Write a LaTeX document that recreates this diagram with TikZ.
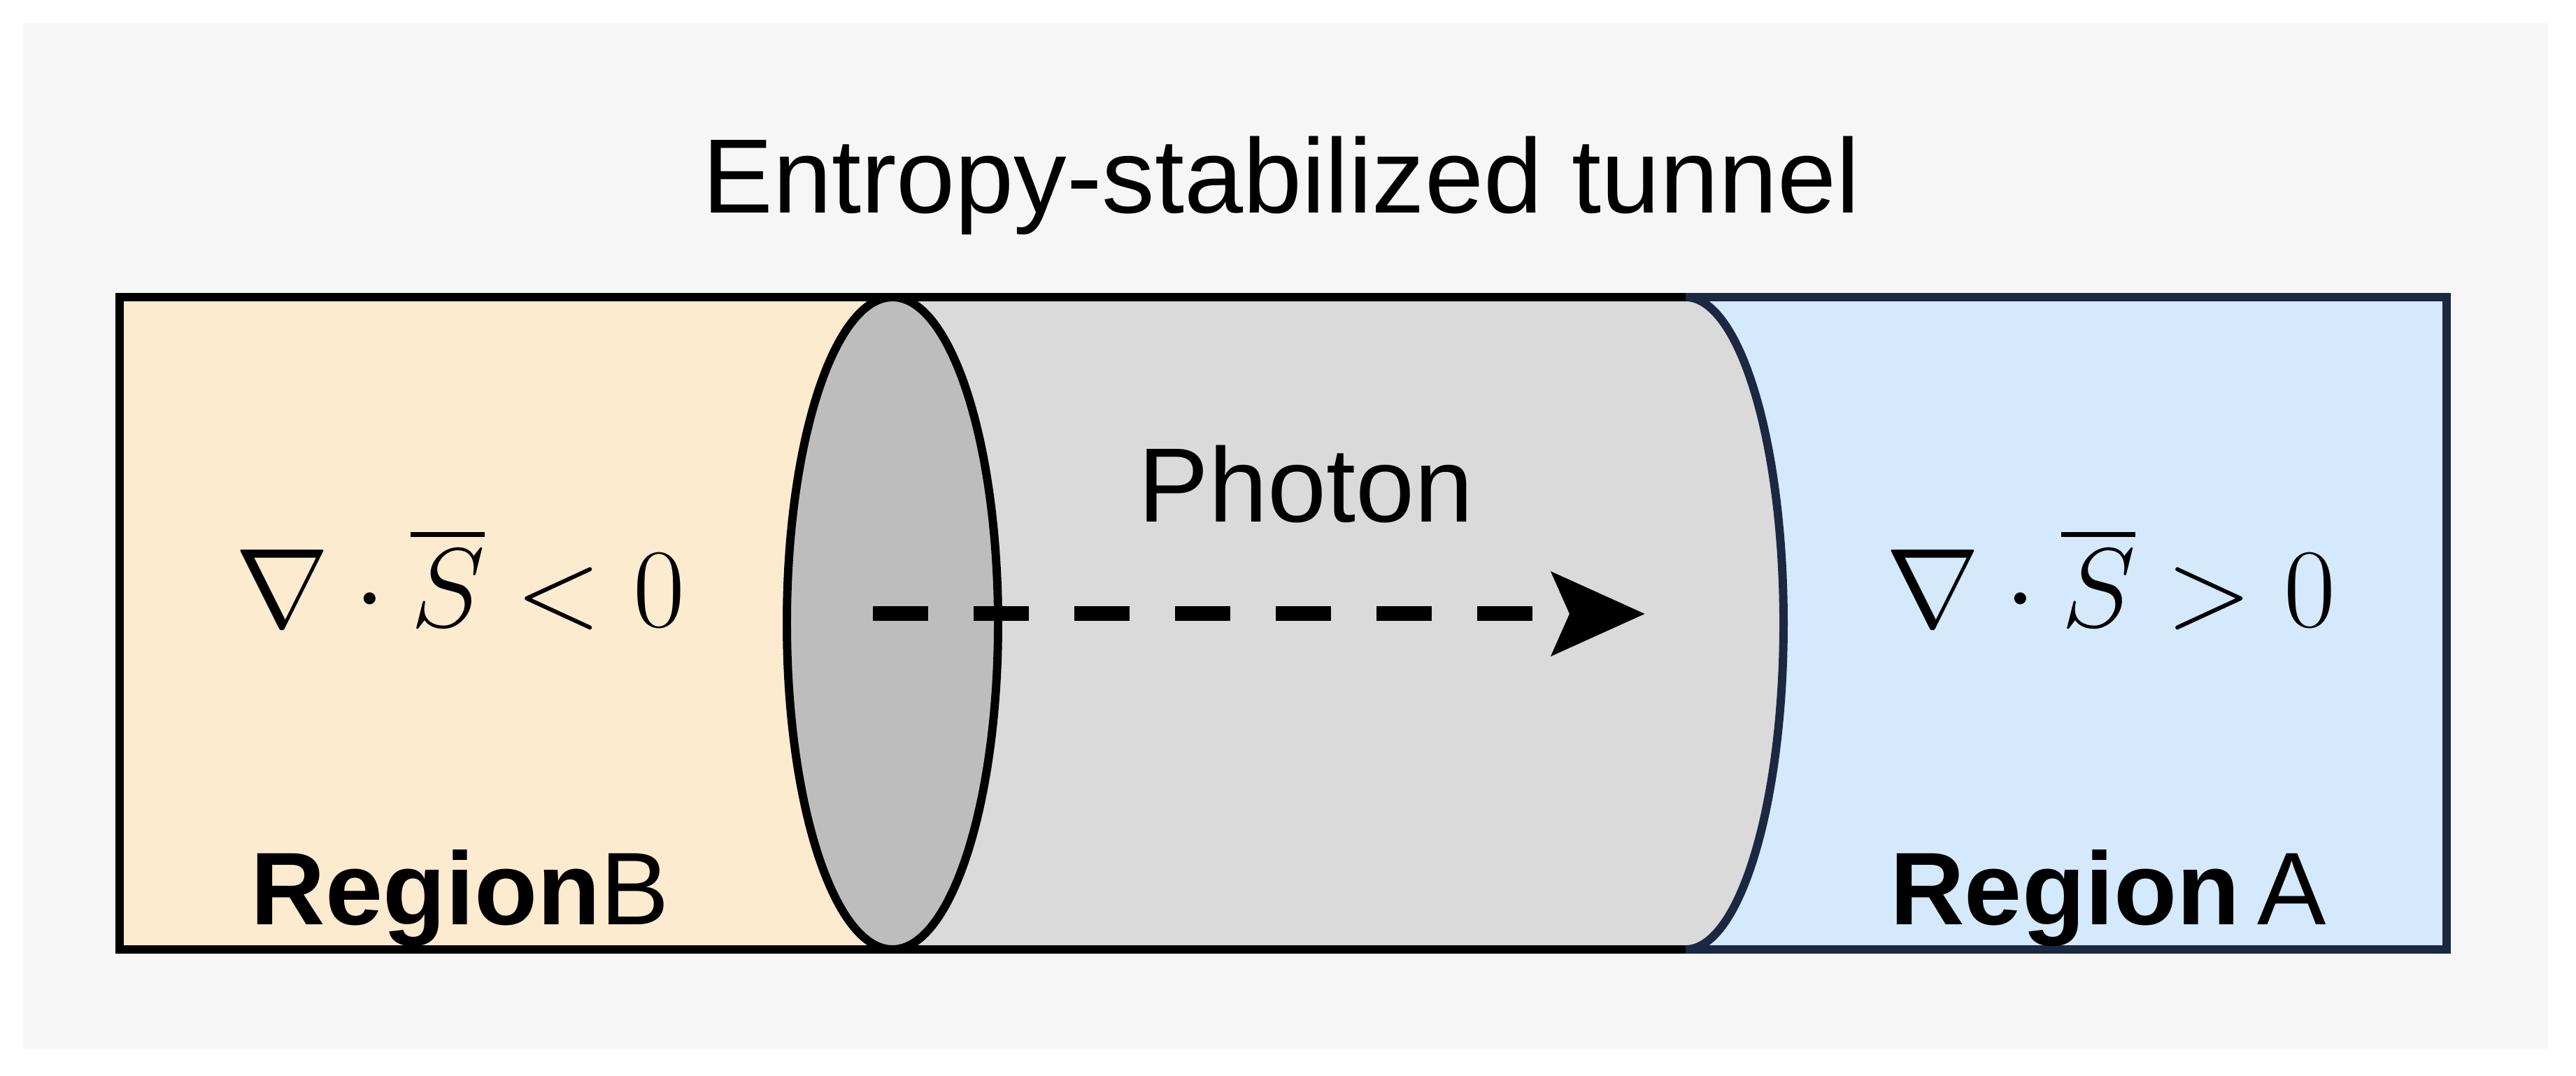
\documentclass[tikz,border=0pt]{standalone}
\usepackage{amsmath}
\usepackage{fontspec}
\setmainfont{Liberation Sans}
\usepackage{tikz}
\usetikzlibrary{arrows.meta,positioning,calc}
\definecolor{cardbg}{RGB}{246,246,246}
\definecolor{tanfill}{RGB}{253,235,208}
\definecolor{bluefill}{RGB}{212,233,251}
\definecolor{tubegray}{RGB}{218,218,218}
\definecolor{capgray}{RGB}{189,189,189}
\definecolor{navyln}{RGB}{28,40,66}
\tikzset{
  boxln/.style={line width=3.2pt, line join=miter},
  capln/.style={line width=3.4pt},
  photonln/.style={-{Stealth[length=1.33cm,width=1.18cm,inset=0.25cm]},
    line width=0.21cm, dash pattern=on 0.79cm off 0.65cm},
  bigtxt/.style={font=\fontsize{43}{50}\selectfont, inner sep=0pt},
  regtxt/.style={font=\fontsize{42}{50}\selectfont, inner sep=0pt},
  mathtxt/.style={font=\Huge, scale=1.84, inner sep=0pt},
}
\newcommand{\regname}[2]{\textbf{Region}#1#2}

\begin{document}
\begin{tikzpicture}
    \useasboundingbox (0,0) rectangle (36.83,15.38);
    \fill[cardbg] (0.33,0.38) rectangle (36.43,15.05);
    % region fills
    \fill[tanfill] (1.71,1.80) rectangle (12.76,11.13);
    \fill[bluefill] (24.10,1.80) rectangle (34.98,11.13);
    % tube body
    \fill[tubegray] (12.76,11.13) -- (24.10,11.13)
      arc[start angle=90, end angle=-90, x radius=1.40, y radius=4.665]
      -- (12.76,1.80) -- cycle;
    \draw[navyln, capln] (24.10,11.13)
      arc[start angle=90, end angle=-90, x radius=1.40, y radius=4.665];
    % outer box
    \draw[boxln] (24.10,11.13) -- (1.71,11.13) -- (1.71,1.80) -- (24.10,1.80);
    \draw[boxln, navyln] (24.10,11.13) -- (34.98,11.13) -- (34.98,1.80) -- (24.10,1.80);
    % tube mouth
    \draw[capln, fill=capgray] (12.76,6.465) ellipse[x radius=1.51, y radius=4.665];
    % labels
    \node[bigtxt, anchor=base] (title) at (18.32,12.33) {Entropy-stabilized tunnel};
    \node[bigtxt, anchor=base] (photon) at (18.67,7.91) {Photon};
    \node[mathtxt, anchor=base] (divB) at (6.58,6.41) {$\nabla\cdot\overline{S}<0$};
    \node[mathtxt, anchor=base] (divA) at (30.18,6.41) {$\nabla\cdot\overline{S}>0$};
    \node[regtxt, anchor=base] (regB) at (6.58,2.16) {\regname{}{B}};
    \node[regtxt, anchor=base] (regA) at (30.14,2.16) {\regname{\,}{A}};
    % photon path
    \coordinate (photonstart) at (12.48,6.60);
    \coordinate (photonend) at (23.52,6.60);
    \draw[photonln] (photonstart) -- (photonend);
\end{tikzpicture}
\end{document}
